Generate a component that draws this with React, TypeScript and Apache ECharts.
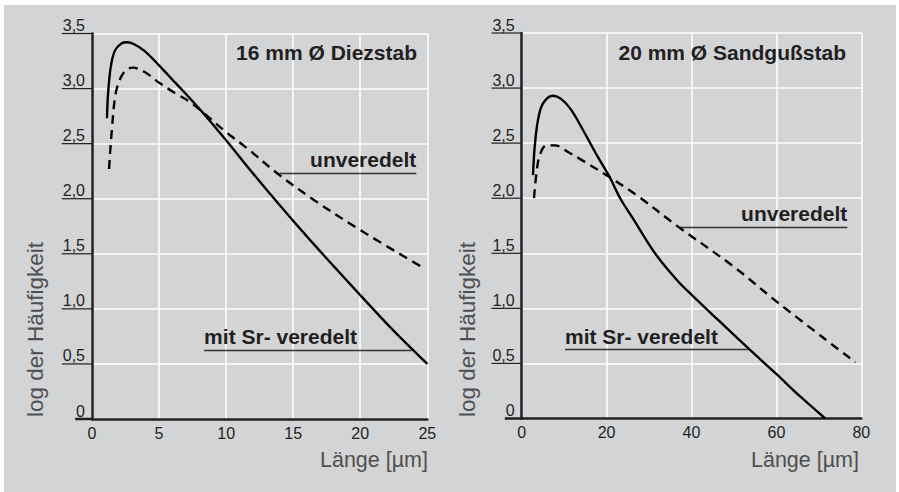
import { useEffect, useRef } from 'react';
import * as echarts from 'echarts';

// Tick values shared by both panels (log of frequency)
const Y_TICKS = [0, 0.5, 1, 1.5, 2, 2.5, 3, 3.5];
const Y_MAX = 3.5;
const Y_STEP = 0.5;

const LEFT_X_MAX = 25;
const LEFT_X_STEP = 5;
const RIGHT_X_MAX = 80;
const RIGHT_X_STEP = 20;

const LEFT_TITLE = '16 mm Ø Diezstab';
const RIGHT_TITLE = '20 mm Ø Sandgußstab';
const X_NAME = 'Länge [µm]';
const Y_NAME = 'log der Häufigkeit';
const LABEL_PLAIN = 'unveredelt';
const LABEL_SR = 'mit Sr- veredelt';

// 16 mm die-cast bar, Sr-modified (solid)
const leftSrX = [1.12, 1.19, 1.39, 1.69, 2.19, 2.63, 3.18, 3.93, 4.93, 5.92, 7.16, 8.41, 10.0, 12.0, 14.0, 16.0, 18.0, 20.0, 22.5, 25.0];
const leftSrY = [2.73, 2.94, 3.19, 3.34, 3.41, 3.42, 3.40, 3.34, 3.22, 3.09, 2.93, 2.76, 2.53, 2.23, 1.94, 1.66, 1.39, 1.125, 0.80, 0.5];
// 16 mm die-cast bar, unmodified (dashed)
const leftPlainX = [1.27, 1.49, 1.74, 2.07, 2.56, 3.06, 3.93, 4.93, 6.17, 7.16, 8.5, 10.05, 11.54, 14.03, 16.77, 20.0, 24.73];
const leftPlainY = [2.27, 2.64, 2.94, 3.08, 3.17, 3.19, 3.15, 3.06, 2.96, 2.89, 2.76, 2.60, 2.46, 2.21, 1.97, 1.715, 1.37];

// 20 mm sand-cast bar, Sr-modified (solid)
const rightSrX = [2.66, 3.07, 3.84, 5.02, 7.38, 9.35, 11.7, 14.86, 18.0, 20.75, 23.2, 26.3, 31.4, 36.6, 40.1, 46.4, 53.6, 60.1, 65.6, 71.5];
const rightSrY = [2.21, 2.47, 2.71, 2.86, 2.93, 2.90, 2.80, 2.59, 2.37, 2.19, 2.0, 1.81, 1.5, 1.255, 1.12, 0.89, 0.63, 0.40, 0.20, 0.0];
// 20 mm sand-cast bar, unmodified (dashed)
const rightPlainX = [2.9, 3.45, 4.25, 5.81, 7.78, 10.9, 14.86, 20.75, 27.0, 36.9, 49.9, 60.1, 78.6];
const rightPlainY = [2.0, 2.22, 2.39, 2.48, 2.48, 2.42, 2.33, 2.19, 2.03, 1.74, 1.38, 1.06, 0.51];

// Leader lines under the curve labels, in data units: [xStart, xEnd, y]
const leftPlainLeader = [13.96, 24.18, 2.232];
const leftSrLeader = [8.36, 23.8, 0.626];
const rightPlainLeader = [36.9, 76.7, 1.736];
const rightSrLeader = [10.2, 53.6, 0.626];

const zip = (xs: number[], ys: number[]) => xs.map((x, i) => [x, ys[i]]);

const INK = '#231f20';
const GREY_TEXT = '#4f4f4f';
const BG = '#d3d4d6';
const SANS = "'Liberation Sans', Arial, sans-serif";
const LEFT_TICK_FONT = "'Liberation Sans', Arial, sans-serif";
const RIGHT_TICK_FONT = "'Liberation Sans Narrow', 'Liberation Sans', Arial, sans-serif";
const TICK_SIZE = 16;
const LABEL_GAP = 7;
const AXIS_W = 2.5;

const fmtY = (v: number) => (v === 0 ? '0' : v.toFixed(1).replace('.', ','));

function measure(text: string, font: string) {
  const ctx = document.createElement('canvas').getContext('2d');
  if (!ctx) return text.length * 8;
  ctx.font = font;
  return ctx.measureText(text).width;
}

function leader(l: number[], label: string, pos: string) {
  return {
    silent: true,
    symbol: 'none',
    animation: false,
    lineStyle: { color: '#333333', width: 1.3, type: 'solid' },
    label: {
      show: true,
      position: pos,
      formatter: label,
      color: INK,
      fontFamily: SANS,
      fontWeight: 'bold',
      fontSize: 21,
      distance: [0, 3],
    },
    emphasis: { disabled: true },
    data: [[{ coord: [l[0], l[2]] }, { coord: [l[1], l[2]] }]],
  };
}

function xAxisFor(idx: number, max: number, step: number, font: string) {
  return {
    type: 'value',
    gridIndex: idx,
    min: 0,
    max,
    interval: step,
    axisLine: { show: true, onZero: false, lineStyle: { color: INK, width: AXIS_W } },
    axisTick: { show: false },
    axisLabel: {
      color: INK,
      fontFamily: font,
      fontSize: TICK_SIZE,
      margin: 6,
      showMinLabel: true,
      showMaxLabel: true,
    },
    splitLine: { show: true, lineStyle: { color: '#ffffff', width: 1.5 } },
  };
}

function yAxisFor(idx: number, font: string) {
  return {
    type: 'value',
    gridIndex: idx,
    min: 0,
    max: Y_MAX,
    interval: Y_STEP,
    axisLine: { show: true, onZero: false, lineStyle: { color: INK, width: AXIS_W } },
    axisTick: { show: false },
    axisLabel: {
      color: INK,
      fontFamily: font,
      fontSize: TICK_SIZE,
      margin: LABEL_GAP,
      align: 'right',
      verticalAlign: 'bottom',
      lineHeight: TICK_SIZE,
      formatter: fmtY,
      showMinLabel: true,
      showMaxLabel: true,
    },
    splitLine: { show: true, lineStyle: { color: '#ffffff', width: 1.5 } },
  };
}

function curve(idx: number, data: number[][], dashed: boolean, mark: any) {
  return {
    type: 'line',
    xAxisIndex: idx,
    yAxisIndex: idx,
    data,
    smooth: 0.35,
    showSymbol: false,
    symbol: 'none',
    z: 5,
    lineStyle: { color: '#000000', width: 2.4, type: dashed ? [9, 6] : 'solid' },
    emphasis: { disabled: true },
    markLine: mark,
  };
}

function text(x: number, y: number, str: string, style: any, extra: any = {}) {
  return {
    type: 'text',
    x,
    y,
    silent: true,
    ...extra,
    style: { text: str, fontFamily: SANS, ...style },
  };
}

export default function App() {
  const ref = useRef<HTMLDivElement>(null);

  useEffect(() => {
    document.body.style.margin = '0';
    if (!ref.current) return;
    const chart = echarts.init(ref.current, undefined, { renderer: 'svg' });

    const option: any = {
      animation: false,
      backgroundColor: BG,
      grid: [
        { left: 88, top: 28.5, width: 335.3, height: 385.5 },
        { left: 517.7, top: 28, width: 339.6, height: 385.5 },
      ],
      xAxis: [
        xAxisFor(0, LEFT_X_MAX, LEFT_X_STEP, LEFT_TICK_FONT),
        xAxisFor(1, RIGHT_X_MAX, RIGHT_X_STEP, RIGHT_TICK_FONT),
      ],
      yAxis: [yAxisFor(0, LEFT_TICK_FONT), yAxisFor(1, RIGHT_TICK_FONT)],
      series: [
        curve(0, zip(leftSrX, leftSrY), false, leader(leftSrLeader, LABEL_SR, 'insideStartTop')),
        curve(0, zip(leftPlainX, leftPlainY), true, leader(leftPlainLeader, LABEL_PLAIN, 'insideEndTop')),
        curve(1, zip(rightSrX, rightSrY), false, leader(rightSrLeader, LABEL_SR, 'insideStartTop')),
        curve(1, zip(rightPlainX, rightPlainY), true, leader(rightPlainLeader, LABEL_PLAIN, 'insideEndTop')),
      ],
    };
    chart.setOption(option);

    // Underlined tick labels: each rule runs from the label's left edge to the axis
    const graphics: any[] = [];
    const fonts = [LEFT_TICK_FONT, RIGHT_TICK_FONT];
    [0, 1].forEach((g) => {
      const ax = chart.convertToPixel({ xAxisIndex: g } as any, 0) as number;
      Y_TICKS.forEach((v) => {
        const y = chart.convertToPixel({ yAxisIndex: g } as any, v) as number;
        const w = measure(fmtY(v), `${TICK_SIZE}px ${fonts[g]}`);
        graphics.push({
          type: 'line',
          silent: true,
          z: 10,
          shape: { x1: ax - LABEL_GAP - w - 1, y1: y, x2: ax, y2: y },
          style: { stroke: INK, lineWidth: v === 0 ? AXIS_W : 1.2 },
        });
      });
    });

    const titleStyle = { fill: INK, fontSize: 21, fontWeight: 'bold' };
    const xNameStyle = { fill: GREY_TEXT, fontSize: 21.5 };
    const yNameStyle = { fill: GREY_TEXT, fontSize: 22.5 };
    graphics.push(
      text(413, 47, LEFT_TITLE, { ...titleStyle, align: 'right', verticalAlign: 'middle' }),
      text(842, 47, RIGHT_TITLE, { ...titleStyle, align: 'right', verticalAlign: 'middle' }),
      text(424, 455, X_NAME, { ...xNameStyle, align: 'right', verticalAlign: 'middle' }),
      text(855, 455, X_NAME, { ...xNameStyle, align: 'right', verticalAlign: 'middle' }),
      text(31.5, 412, Y_NAME, { ...yNameStyle, align: 'left', verticalAlign: 'middle' }, { rotation: Math.PI / 2 }),
      text(463, 412, Y_NAME, { ...yNameStyle, align: 'left', verticalAlign: 'middle' }, { rotation: Math.PI / 2 })
    );
    chart.setOption({ graphic: graphics });

    return () => chart.dispose();
  }, []);

  return (
    <div style={{ position: 'fixed', left: 0, top: 0, width: 899, height: 492, background: '#ffffff' }}>
      <div ref={ref} style={{ position: 'absolute', left: 4, top: 5, width: 892, height: 487 }} />
    </div>
  );
}
